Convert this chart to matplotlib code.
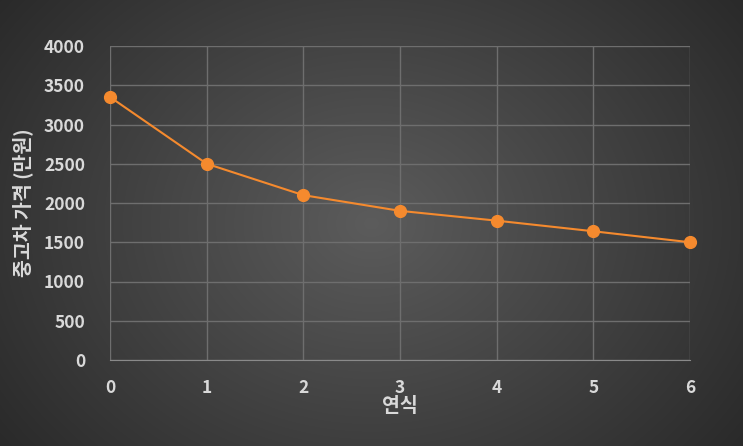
import numpy as np
import matplotlib.pyplot as plt

plt.rcParams['font.family'] = ['Noto Sans CJK KR', 'DejaVu Sans']

years = [0, 1, 2, 3, 4, 5, 6]
prices = [3350, 2500, 2100, 1900, 1775, 1640, 1500]

fig = plt.figure(figsize=(7.43, 4.46), dpi=100)

# radial gradient background
bg = fig.add_axes([0, 0, 1, 1])
yy, xx = np.mgrid[0:446, 0:743]
r = np.sqrt(((xx - 371) / 520) ** 2 + ((yy - 223) / 420) ** 2)
shade = np.clip(0.36 - 0.22 * r, 0.13, 0.36)
bg.imshow(np.dstack([shade] * 3), aspect='auto', extent=[0, 1, 0, 1])
bg.axis('off')

ax = fig.add_axes([110 / 743, 1 - 360 / 446, 580 / 743, 314 / 446])
ax.patch.set_alpha(0)
ax.plot(years, prices, color='#f58a2e', lw=1.5, marker='o', ms=8.5,
        markerfacecolor='#f58a2e', markeredgecolor='#f58a2e', zorder=3, clip_on=False)
ax.set_xlim(0, 6)
ax.set_ylim(0, 4000)
ax.set_xticks(years)
ax.set_yticks(range(0, 4001, 500))
ax.grid(True, color='#6e6e6e', lw=1)
for s in ['top', 'right', 'left']:
    ax.spines[s].set_visible(False)
ax.spines['bottom'].set_color('#8a8a8a')
ax.tick_params(length=0, colors='#d9d9d9', labelsize=12.5)
ax.tick_params(axis='x', pad=14)
ax.tick_params(axis='y', pad=18)
for lab in ax.get_xticklabels() + ax.get_yticklabels():
    lab.set_fontweight('bold')
ax.set_xlabel('연식', color='#d9d9d9', fontsize=14, fontweight='bold', labelpad=0)
ax.set_ylabel('중고차 가격 (만원)', color='#d9d9d9', fontsize=14, fontweight='bold', labelpad=8)

fig.savefig('out.png', dpi=100)
